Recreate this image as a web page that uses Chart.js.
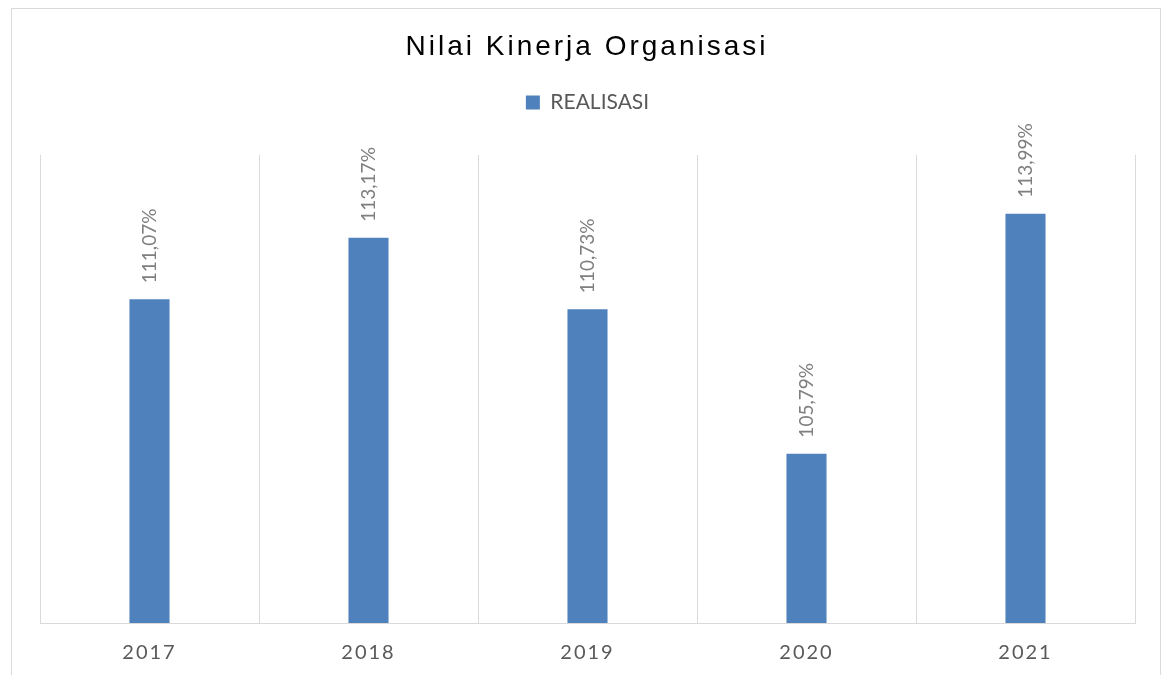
<!DOCTYPE html>
<html>
<head>
<meta charset="utf-8">
<script src="https://cdn.jsdelivr.net/npm/chart.js@4"></script>
<style>
  body { margin: 0; background: #fff; }
  #frame { position: absolute; left: 11px; top: 8px; width: 1148px; height: 700px; border: 1px solid #d9d9d9; }
  #wrap { position: absolute; left: 0; top: 0; width: 1165px; height: 675px; }
</style>
</head>
<body>
<div id="frame"></div>
<div id="wrap"><canvas id="grafica" width="1165" height="675"></canvas></div>
<script>
// data
const tahun = ["2017", "2018", "2019", "2020", "2021"];
const realisasi = [111.07, 113.17, 110.73, 105.79, 113.99];
const judul = "Nilai Kinerja Organisasi";
const namaSeri = "REALISASI";

// label angka di atas batang, diputar 90 derajat
const labelBatang = {
    id: 'labelBatang',
    afterDatasetsDraw: function(chart) {
        var ctx = chart.ctx;
        var meta = chart.getDatasetMeta(0);
        ctx.save();
        ctx.font = "19px Lato";
        ctx.fillStyle = "#7f7f7f";
        ctx.textAlign = "left";
        ctx.textBaseline = "middle";
        meta.data.forEach(function(bar, i) {
            var txt = realisasi[i].toFixed(2).replace(".", ",") + "%";
            ctx.save();
            ctx.translate(bar.x, bar.y - 16);
            ctx.rotate(-Math.PI / 2);
            ctx.fillText(txt, 0, 0);
            ctx.restore();
        });
        ctx.restore();
        // tick sumbu x digambar sesudah ini (z:1), pakai spasi huruf
        ctx.letterSpacing = "2px";
    },
    afterDraw: function(chart) {
        var ctx = chart.ctx;
        ctx.letterSpacing = "0px";
        ctx.save();
        ctx.font = "28px 'Liberation Sans'";
        ctx.letterSpacing = "3px";
        ctx.fillStyle = "#000000";
        ctx.textAlign = "center";
        ctx.textBaseline = "middle";
        ctx.fillText(judul, 587, 47);
        ctx.restore();
        ctx.letterSpacing = "0px";
    }
};

var ctx = document.getElementById('grafica').getContext('2d');
var chart = new Chart(ctx, {
    type: 'bar',
    data: {
        labels: tahun,
        datasets: [{
            label: namaSeri,
            data: realisasi,
            backgroundColor: '#4f81bd',
            borderWidth: 0,
            categoryPercentage: 1,
            barPercentage: 0.183
        }]
    },
    options: {
        animation: false,
        responsive: false,
        maintainAspectRatio: false,
        layout: {
            padding: { top: 82, left: 40, right: 30, bottom: 10 }
        },
        plugins: {
            title: { display: false },
            // jarak kosong antara legenda dan area grafik
            subtitle: {
                display: true,
                text: '',
                weight: 500,
                font: { size: 10 },
                padding: { top: 0, bottom: 20 }
            },
            tooltip: { enabled: false },
            legend: {
                position: 'top',
                labels: {
                    boxWidth: 14,
                    boxHeight: 14,
                    padding: 10,
                    color: '#595959',
                    font: { family: 'Lato', size: 21 }
                }
            }
        },
        scales: {
            x: {
                grid: {
                    color: '#d9d9d9',
                    lineWidth: 1,
                    drawTicks: false,
                    offset: true
                },
                border: { color: '#d9d9d9' },
                ticks: {
                    z: 1,
                    padding: 18,
                    color: '#595959',
                    font: { family: 'Lato', size: 20 },
                    maxRotation: 0
                },
                afterFit: function(scale) {
                    scale.height = 42;
                }
            },
            y: {
                display: false,
                min: 100,
                max: 116
            }
        }
    },
    plugins: [labelBatang]
});
</script>
</body>
</html>
